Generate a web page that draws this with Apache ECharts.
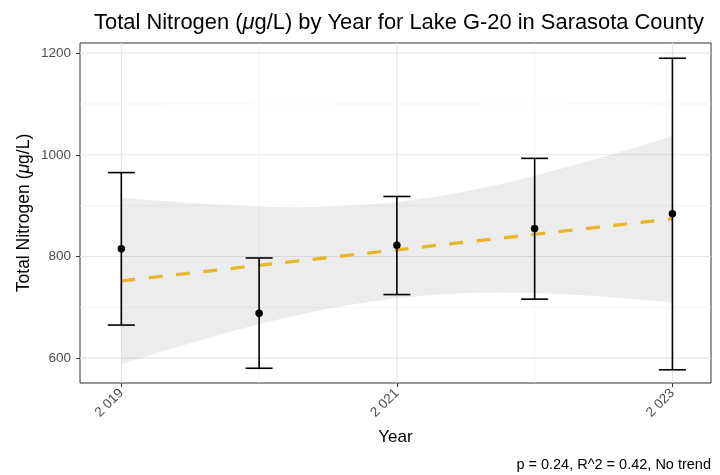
<!DOCTYPE html>
<html><head><meta charset="utf-8">
<script src="https://cdn.jsdelivr.net/npm/echarts@6/dist/echarts.min.js"></script>
<style>html,body{margin:0;padding:0;background:#fff}#c{width:720px;height:475px}</style>
</head><body><div id="c"></div>
<script>
const years = [2019, 2020, 2021, 2022, 2023];
const means = [815, 688, 822, 855, 884];
const lows = [665, 580, 725, 716, 577];
const highs = [965, 797, 918, 993, 1190];
const fitX = [2019, 2023];
const fitY = [752, 874];
const bandX = [2019, 2019.25, 2019.5, 2019.75, 2020, 2020.25, 2020.5, 2020.75, 2021, 2021.25, 2021.5, 2021.75, 2022, 2022.25, 2022.5, 2022.75, 2023];
const bandLow = [588, 609, 629, 649, 667, 683, 697, 709, 718, 724, 728, 729, 728, 725, 721, 716, 710];
const bandHigh = [915, 910, 905, 901, 898, 897, 898, 901, 907, 916, 928, 942, 959, 977, 996, 1016, 1037];
const yMajor = [600, 800, 1000, 1200];
const yMinor = [700, 900, 1100];
const xMajor = [2019, 2021, 2023];
const xMinor = [2020, 2022];
const xLabels = ['2 019', '2 021', '2 023'];

const FONT = 'Liberation Sans, Arial, sans-serif';
const chart = echarts.init(document.getElementById('c'), null, {renderer: 'canvas'});

// grid lines: [orientation(0=x,1=y), value, major(1)/minor(0)]
const gridData = [];
xMajor.forEach(v => gridData.push([0, v, 1]));
xMinor.forEach(v => gridData.push([0, v, 0]));
yMajor.forEach(v => gridData.push([1, v, 1]));
yMinor.forEach(v => gridData.push([1, v, 0]));

const bandData = bandX.map((x, i) => [x, bandLow[i], bandHigh[i]]);

const labelMap = {};
xMajor.forEach((v, i) => labelMap[v] = xLabels[i]);

chart.setOption({
  animation: false,
  backgroundColor: '#fff',
  textStyle: {fontFamily: FONT},
  title: {
    text: 'Total Nitrogen ({i|\u03bc}g/L) by Year for Lake G-20 in Sarasota County',
    left: 394, top: 7, textAlign: 'center',
    textStyle: {fontFamily: FONT, fontSize: 21.9, fontWeight: 'normal', color: '#000',
      rich: {i: {fontFamily: FONT, fontSize: 21.9, fontStyle: 'italic', color: '#000'}}}
  },
  graphic: [{
    type: 'text', right: 9, bottom: 3,
    style: {text: 'p = 0.24, R^2 = 0.42, No trend', font: '14.5px Liberation Sans, Arial, sans-serif', fill: '#000'}
  }],
  grid: {left: 80, right: 9, top: 43, bottom: 92, show: true, borderColor: '#333', borderWidth: 1, backgroundColor: '#fff'},
  xAxis: {
    type: 'value', min: 2018.7, max: 2023.28,
    name: 'Year', nameLocation: 'middle', nameGap: 46,
    nameTextStyle: {fontFamily: FONT, fontSize: 17, color: '#000'},
    axisLine: {show: false},
    axisTick: {show: true, length: 4, lineStyle: {color: '#333'}, customValues: xMajor},
    axisLabel: {customValues: xMajor, rotate: 45, margin: 8, fontFamily: FONT, fontSize: 13.5, color: '#4D4D4D',
      formatter: v => labelMap[v] || ''},
    splitLine: {show: false}
  },
  yAxis: {
    type: 'value', min: 551, max: 1220,
    name: 'Total Nitrogen ({i|\u03bc}g/L)', nameLocation: 'middle', nameGap: 47, nameMoveOverlap: false,
    nameTextStyle: {fontFamily: FONT, fontSize: 17.5, color: '#000',
      rich: {i: {fontFamily: FONT, fontSize: 17.5, fontStyle: 'italic', color: '#000'}}},
    axisLine: {show: false},
    axisTick: {show: true, length: 4, lineStyle: {color: '#333'}, customValues: yMajor},
    axisLabel: {customValues: yMajor, margin: 9, fontFamily: FONT, fontSize: 13.5, color: '#4D4D4D',
      formatter: v => String(v)},
    splitLine: {show: false}
  },
  series: [
    {
      type: 'custom', silent: true, z: 0, clip: true,
      data: gridData,
      encode: {x: -1, y: -1},
      renderItem: (params, api) => {
        const cs = params.coordSys;
        const o = api.value(0), v = api.value(1), major = api.value(2);
        const style = {stroke: major ? '#E6E6E6' : '#F2F2F2', lineWidth: major ? 1.1 : 0.7};
        if (o === 0) {
          const x = api.coord([v, 700])[0];
          return {type: 'line', shape: {x1: x, y1: cs.y, x2: x, y2: cs.y + cs.height}, style};
        } else {
          const y = api.coord([2020, v])[1];
          return {type: 'line', shape: {x1: cs.x, y1: y, x2: cs.x + cs.width, y2: y}, style};
        }
      }
    },
    {
      type: 'custom', silent: true, z: 1,
      data: bandData,
      encode: {x: 0, y: [1, 2]},
      renderItem: (params, api) => {
        if (params.dataIndex !== 0) return null;
        const upper = bandData.map(d => api.coord([d[0], d[2]]));
        const lower = bandData.map(d => api.coord([d[0], d[1]])).reverse();
        return {type: 'polygon', shape: {points: upper.concat(lower)},
          style: {fill: 'rgba(153,153,153,0.19)'}};
      }
    },
    {
      type: 'line', data: fitX.map((x, i) => [x, fitY[i]]), symbol: 'none', z: 3,
      lineStyle: {color: '#E6B72B', width: 3.3, type: [14, 13.5]}
    },
    {
      type: 'custom', z: 4,
      data: years.map((x, i) => [x, lows[i], highs[i]]),
      encode: {x: 0, y: [1, 2]},
      renderItem: (params, api) => {
        const lo = api.coord([api.value(0), api.value(1)]);
        const hi = api.coord([api.value(0), api.value(2)]);
        const w = 13.5;
        const st = {stroke: '#000', lineWidth: 1.6};
        return {type: 'group', children: [
          {type: 'line', shape: {x1: lo[0], y1: lo[1], x2: hi[0], y2: hi[1]}, style: st},
          {type: 'line', shape: {x1: lo[0] - w, y1: lo[1], x2: lo[0] + w, y2: lo[1]}, style: st},
          {type: 'line', shape: {x1: hi[0] - w, y1: hi[1], x2: hi[0] + w, y2: hi[1]}, style: st}
        ]};
      }
    },
    {
      type: 'scatter', data: years.map((x, i) => [x, means[i]]), symbol: 'circle', symbolSize: 7.5,
      itemStyle: {color: '#000', opacity: 1}, z: 5
    }
  ]
});
</script>
</body></html>
